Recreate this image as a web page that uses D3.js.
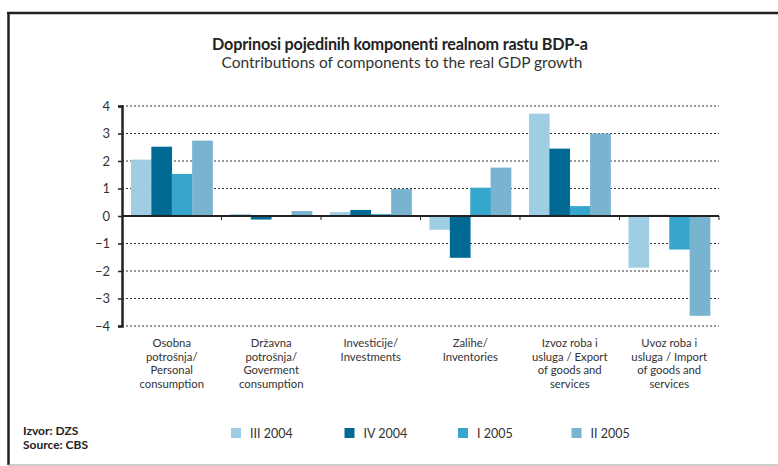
<!DOCTYPE html>
<html><head><meta charset="utf-8">
<script src="https://cdn.jsdelivr.net/npm/d3@7"></script>
<style>
body{margin:0;background:#fff;}
svg{display:block;font-family:Lato, "Open Sans", sans-serif;}
</style></head>
<body><svg id="c" width="778" height="466"></svg>
<script>
const categories = [
  ["Osobna","potrošnja/","Personal","consumption"],
  ["Državna","potrošnja/","Goverment","consumption"],
  ["Investicije/","Investments"],
  ["Zalihe/","Inventories"],
  ["Izvoz roba i","usluga / Export","of goods and","services"],
  ["Uvoz roba i","usluga / Import","of goods and","services"]
];
const seriesNames = ["III 2004","IV 2004","I 2005","II 2005"];
const s_III2004 = [2.05, 0.07, 0.14, -0.50, 3.72, -1.88];
const s_IV2004  = [2.52, -0.13, 0.22, -1.52, 2.45, 0.04];
const s_I2005   = [1.53, 0.00, 0.07, 1.03, 0.36, -1.22];
const s_II2005  = [2.74, 0.18, 0.98, 1.76, 3.00, -3.63];
const yTicks = [-4,-3,-2,-1,0,1,2,3,4];
const colors = ["#9fcde4","#006a94","#37a6cc","#78b3d0"];
const series = [s_III2004, s_IV2004, s_I2005, s_II2005];

const svg = d3.select("#c");
// frame
svg.append("line").attr("x1",7).attr("x2",778).attr("y1",13).attr("y2",13).attr("stroke","#222").attr("stroke-width",2.5);
svg.append("line").attr("x1",8.5).attr("x2",8.5).attr("y1",12).attr("y2",465).attr("stroke","#222").attr("stroke-width",2.5);
svg.append("line").attr("x1",8).attr("x2",778).attr("y1",465).attr("y2",465).attr("stroke","#999").attr("stroke-width",1);

// titles
svg.append("text").attr("x",400).attr("y",50).attr("text-anchor","middle")
  .attr("font-size",16.2).attr("font-weight","bold").attr("fill","#222").attr("letter-spacing","-0.2")
  .text("Doprinosi pojedinih komponenti realnom rastu BDP-a");
svg.append("text").attr("x",402).attr("y",68).attr("text-anchor","middle")
  .attr("font-size",15.5).attr("fill","#333").attr("letter-spacing","0")
  .text("Contributions of components to the real GDP growth");

const left = 122, right = 719;
const x = d3.scaleBand().domain(d3.range(categories.length)).range([left,right]).paddingInner(0.18).paddingOuter(0.09);
const xs = d3.scaleBand().domain(d3.range(series.length)).range([0,x.bandwidth()]);
const y = d3.scaleLinear().domain([-4,4]).range([326,106]);

// gridlines
svg.append("g").selectAll("line").data(yTicks.filter(d=>d!==0)).join("line")
  .attr("x1",left).attr("x2",right).attr("y1",d=>y(d)).attr("y2",d=>y(d))
  .attr("stroke","#333").attr("stroke-width",1).attr("stroke-dasharray","2,2");

// bars
series.forEach((s,i)=>{
  svg.append("g").selectAll("rect").data(s).join("rect")
    .attr("x",(d,j)=>x(j)+xs(i)).attr("width",xs.bandwidth()+0.3)
    .attr("y",d=>y(Math.max(0,d))).attr("height",d=>Math.abs(y(d)-y(0)))
    .attr("fill",colors[i]);
});

// y axis
const ya = svg.append("g").attr("transform",`translate(${left},0)`)
  .call(d3.axisLeft(y).tickValues(yTicks).tickSize(4).tickFormat(d3.format("d")));
ya.select(".domain").attr("stroke","#222").attr("stroke-width",2.5);
ya.selectAll(".tick line").attr("stroke","#222").attr("stroke-width",1.5);
ya.selectAll("text").attr("font-size",13).attr("fill","#333").attr("font-family","Lato, sans-serif").attr("x",-12);

// zero line and category ticks
const xb = d3.scaleLinear().domain([0,categories.length]).range([left,right]);
svg.append("line").attr("x1",left).attr("x2",right).attr("y1",y(0)).attr("y2",y(0)).attr("stroke","#222").attr("stroke-width",2);
svg.append("g").selectAll("line").data(d3.range(1,categories.length+1)).join("line")
  .attr("x1",d=>xb(d)).attr("x2",d=>xb(d)).attr("y1",y(0)).attr("y2",y(0)+4).attr("stroke","#222").attr("stroke-width",1);

// category labels
categories.forEach((lines,i)=>{
  lines.forEach((l,k)=>{
    svg.append("text").attr("text-anchor","middle").attr("font-size",11.3).attr("fill","#333")
      .attr("x",x(i)+x.bandwidth()/2).attr("y",347+k*13.5).text(l);
  });
});

// legend
const lg = svg.append("g");
seriesNames.forEach((n,i)=>{
  const lx = 231 + i*113.5;
  lg.append("rect").attr("x",lx).attr("y",428).attr("width",10).attr("height",10).attr("fill",colors[i]);
  lg.append("text").attr("x",lx+19).attr("y",437.5).attr("font-size",12.5).attr("fill","#333").text(n);
});

// source
svg.append("text").attr("x",23).attr("y",435).attr("font-size",12).attr("font-weight","bold").attr("fill","#222").text("Izvor: DZS");
svg.append("text").attr("x",23).attr("y",449).attr("font-size",12).attr("font-weight","bold").attr("fill","#222").text("Source: CBS");
</script></body></html>
